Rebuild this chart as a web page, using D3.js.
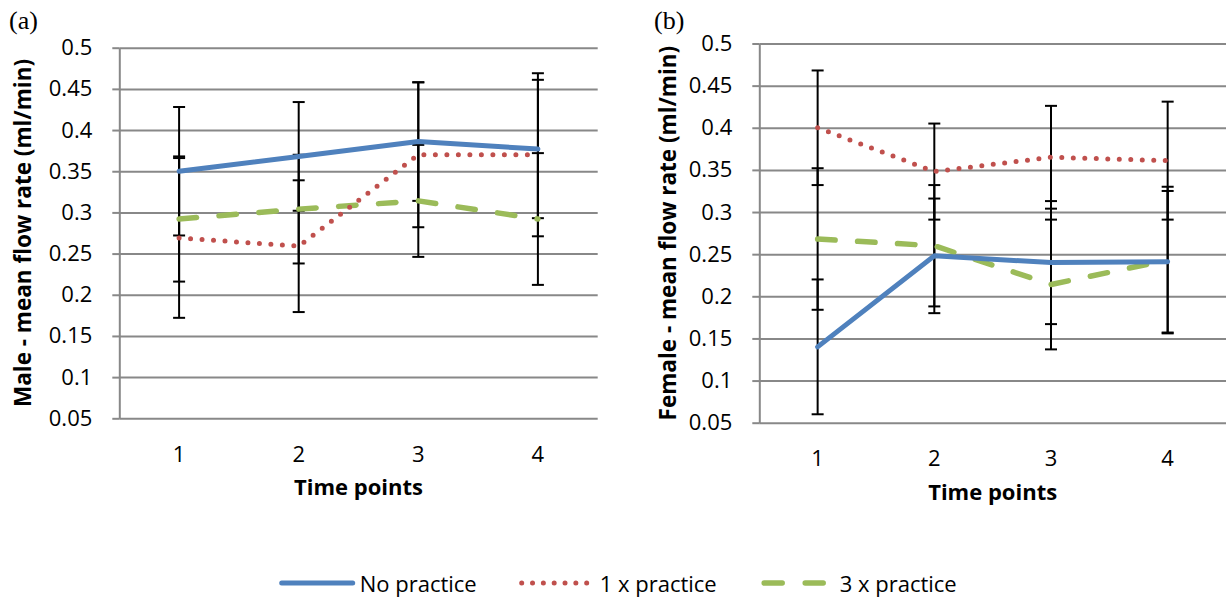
<!DOCTYPE html>
<html>
<head>
<meta charset="utf-8">
<script src="https://cdn.jsdelivr.net/npm/d3@7"></script>
<style>
  body { margin: 0; background: #fff; }
  svg { display: block; font-family: "Open Sans", "Noto Sans", sans-serif; }
</style>
</head>
<body>
<div id="chart"></div>
<script>
// Data
const timePoints = ["1", "2", "3", "4"];
const yTicks = [0.05, 0.1, 0.15, 0.2, 0.25, 0.3, 0.35, 0.4, 0.45, 0.5];
const seriesNames = ["No practice", "1 x practice", "3 x practice"];

// (a) male
const maleNoPractice = [0.350, 0.368, 0.386, 0.377];
const maleNoPracticeErr = [0.078, 0.066, 0.072, 0.084];
const male1x = [0.269, 0.259, 0.370, 0.370];
const male1xErr = [0.097, 0.080, 0.088, 0.099];
const male3x = [0.292, 0.304, 0.314, 0.292];
const male3xErr = [0.076, 0.066, 0.068, 0.080];

// (b) female
const femaleNoPractice = [0.140, 0.248, 0.240, 0.241];
const femaleNoPracticeErr = [0.080, 0.068, 0.073, 0.084];
const female1x = [0.400, 0.348, 0.365, 0.361];
const female1xErr = [0.068, 0.057, 0.061, 0.070];
const female3x = [0.268, 0.260, 0.214, 0.243];
const female3xErr = [0.084, 0.072, 0.077, 0.087];

// gaya garis tiap seri
const styles = [
  { color: "#4F81BD", width: 5, dash: null, cap: "round" },
  { color: "#C0504D", width: 5, dash: "0 11.5", cap: "round" },
  { color: "#9BBB59", width: 5.5, dash: "17.5 22.5", cap: "round" }
];

const svg = d3.select("#chart").append("svg")
  .attr("width", 1227)
  .attr("height", 599);

function drawPanel(opt) {
  const x = d3.scaleBand().domain(timePoints).range([opt.left, opt.right]).padding(0);
  const y = d3.scaleLinear().domain([0.05, 0.5]).range([opt.bottom, opt.top]);
  const w = opt.right - opt.left;
  const g = svg.append("g");

  // garis grid
  g.append("g")
    .attr("transform", `translate(${opt.left},0)`)
    .call(d3.axisLeft(y).tickValues(yTicks).tickSize(-w).tickFormat(""))
    .call(s => s.select(".domain").remove())
    .selectAll("line")
    .attr("stroke", "#888")
    .attr("stroke-width", 2);

  // sumbu y
  const yAxis = g.append("g")
    .attr("transform", `translate(${opt.left},0)`)
    .call(d3.axisLeft(y).tickValues(yTicks).tickSize(7).tickSizeOuter(0).tickPadding(20)
      .tickFormat(d => String(+d.toFixed(2))))
    .attr("font-family", null)
    .attr("font-size", 22);
  yAxis.select(".domain").attr("stroke", "#888").attr("stroke-width", 2);
  yAxis.selectAll(".tick line").attr("stroke", "#888").attr("stroke-width", 2);
  yAxis.selectAll("text").attr("fill", "#000");

  // label sumbu x
  const xAxis = g.append("g")
    .attr("transform", `translate(0,${opt.bottom})`)
    .call(d3.axisBottom(x).tickSize(0).tickPadding(28))
    .attr("font-family", null)
    .attr("font-size", 22);
  xAxis.select(".domain").remove();
  xAxis.selectAll("text").attr("fill", "#000");

  // judul sumbu
  g.append("text")
    .attr("x", (opt.left + opt.right) / 2)
    .attr("y", opt.bottom + 77)
    .attr("text-anchor", "middle")
    .attr("font-size", 22)
    .attr("font-weight", "bold")
    .text("Time points");

  g.append("text")
    .attr("transform", `translate(${opt.titleX + 7.9},${(opt.top + opt.bottom) / 2}) rotate(-90)`)
    .attr("text-anchor", "middle")
    .attr("font-size", 22.5)
    .attr("font-weight", "bold")
    .text(opt.yTitle);

  // label panel
  g.append("text")
    .attr("x", opt.tagX)
    .attr("y", 29)
    .attr("font-family", "'Liberation Serif', 'Times New Roman', serif")
    .attr("font-size", 26)
    .text(opt.tag);

  const cx = d => x(d) + x.bandwidth() / 2;

  // error bar
  opt.series.forEach(s => {
    const eb = g.append("g").attr("stroke", "#000").attr("stroke-width", 2);
    timePoints.forEach((t, i) => {
      const hi = y(s.values[i] + s.errors[i]);
      const lo = y(s.values[i] - s.errors[i]);
      eb.append("line").attr("x1", cx(t)).attr("x2", cx(t)).attr("y1", hi).attr("y2", lo);
      eb.append("line").attr("x1", cx(t) - 6).attr("x2", cx(t) + 6).attr("y1", hi).attr("y2", hi);
      eb.append("line").attr("x1", cx(t) - 6).attr("x2", cx(t) + 6).attr("y1", lo).attr("y2", lo);
    });
  });

  // garis seri
  const line = d3.line().x(d => cx(d.t)).y(d => y(d.v));
  [2, 1, 0].forEach(k => {
    const s = opt.series[k];
    const st = styles[k];
    g.append("path")
      .datum(timePoints.map((t, i) => ({ t: t, v: s.values[i] })))
      .attr("d", line)
      .attr("fill", "none")
      .attr("stroke", st.color)
      .attr("stroke-width", st.width)
      .attr("stroke-linecap", st.cap)
      .attr("stroke-linejoin", "round")
      .attr("stroke-dasharray", st.dash);
  });
}

drawPanel({
  left: 119.3, right: 597.7, top: 47.7, bottom: 418.3,
  titleX: 22.7, tagX: 9, tag: "(a)",
  yTitle: "Male - mean flow rate (ml/min)",
  series: [
    { values: maleNoPractice, errors: maleNoPracticeErr },
    { values: male1x, errors: male1xErr },
    { values: male3x, errors: male3xErr }
  ]
});

drawPanel({
  left: 759.3, right: 1226, top: 43.5, bottom: 422.7,
  titleX: 668, tagX: 654, tag: "(b)",
  yTitle: "Female - mean flow rate (ml/min)",
  series: [
    { values: femaleNoPractice, errors: femaleNoPracticeErr },
    { values: female1x, errors: female1xErr },
    { values: female3x, errors: female3xErr }
  ]
});

// legenda
const legend = svg.append("g");
seriesNames.forEach((name, i) => {
  const lx = 281.7 + i * 240;
  const st = styles[i];
  const item = legend.append("g");
  if (i === 0) {
    item.append("line").attr("x1", lx).attr("x2", lx + 71);
  } else if (i === 1) {
    item.append("line").attr("x1", lx).attr("x2", lx + 65).attr("stroke-dasharray", "0 10.83");
  } else {
    item.append("line").attr("x1", lx + 2.5).attr("x2", lx + 62.5).attr("stroke-dasharray", "18 23");
  }
  item.select("line")
    .attr("y1", 583).attr("y2", 583)
    .attr("stroke", st.color)
    .attr("stroke-width", i === 0 ? 5 : st.width)
    .attr("stroke-linecap", st.cap);
  item.append("text")
    .attr("x", lx + 78)
    .attr("y", 591.5)
    .attr("font-size", 22)
    .attr("fill", "#000")
    .text(name);
});
</script>
</body>
</html>
